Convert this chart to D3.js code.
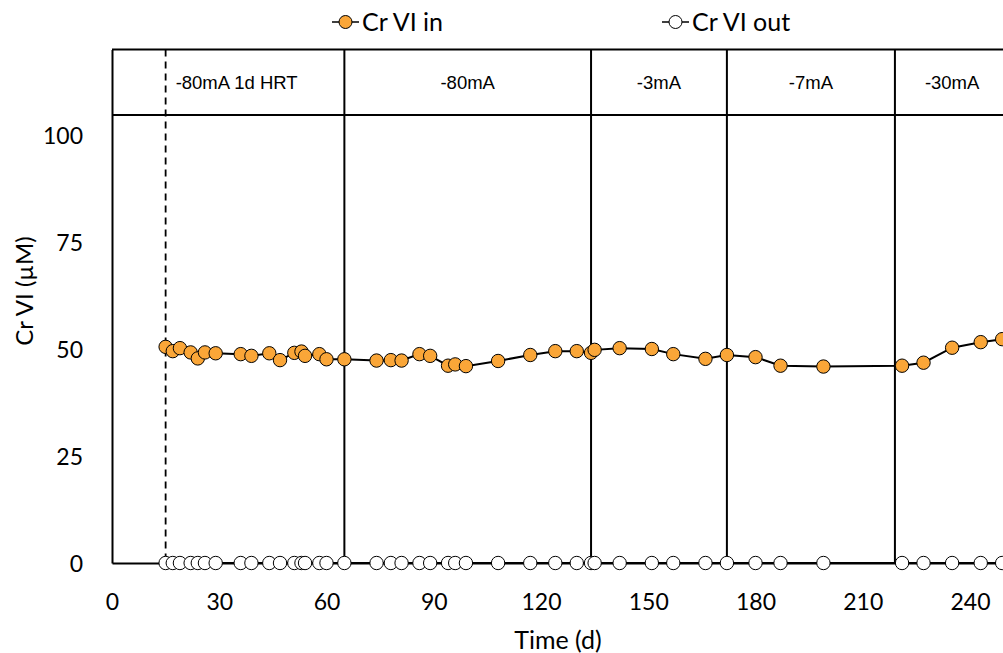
<!DOCTYPE html>
<html>
<head>
<meta charset="utf-8">
<script src="https://cdn.jsdelivr.net/npm/d3@7"></script>
<style>
  body { margin: 0; background: #fff; }
  svg { display: block; }
  .tick text { font-family: Lato, "Open Sans", sans-serif; font-size: 23px; fill: #000; }
</style>
</head>
<body>
<svg id="chart" width="1003" height="653"></svg>
<script>
// sampling days (d)
const days = [15, 17, 19, 22, 24, 26, 29, 36, 39, 44, 47, 51, 53, 54, 58, 60, 65,
  74, 78, 81, 86, 89, 94, 96, 99, 108, 117, 124, 130, 134, 135, 142, 151, 157,
  166, 172, 180, 187, 199, 221, 227, 235, 243, 249];

// Cr VI influent (uM)
const crIn = [50.5, 49.5, 50.2, 49.2, 47.8, 49.2, 49.0, 48.8, 48.4, 49.0, 47.4, 49.1, 49.4, 48.4, 48.8, 47.6, 47.6,
  47.3, 47.4, 47.3, 48.8, 48.4, 46.1, 46.4, 46.0, 47.2, 48.6, 49.5, 49.5, 49.1, 49.8, 50.2, 50.0, 48.8,
  47.7, 48.6, 48.1, 46.1, 45.9, 46.1, 46.8, 50.3, 51.6, 52.3];

// Cr VI effluent (uM)
const crOut = [0, 0, 0, 0, 0, 0, 0, 0, 0, 0, 0, 0, 0, 0, 0, 0, 0,
  0, 0, 0, 0, 0, 0, 0, 0, 0, 0, 0, 0, 0, 0, 0, 0, 0,
  0, 0, 0, 0, 0, 0, 0, 0, 0, 0];

// operating phases
const phaseStart = [15, 65, 134, 172, 219];
const phaseEnd = [65, 134, 172, 219, 251];
const phaseLabels = ['-80mA 1d HRT', '-80mA', '-3mA', '-7mA', '-30mA'];

const xTicks = [0, 30, 60, 90, 120, 150, 180, 210, 240];
const yTicks = [0, 25, 50, 75, 100];

const svg = d3.select('#chart');
const left = 112, bottom = 563;

const x = d3.scaleLinear().domain([0, 270]).range([left, left + 270 * 3.575]);
const y = d3.scaleLinear().domain([0, 120]).range([bottom, bottom - 120 * 4.28]);
const boxBottom = 104.7; // lower edge of the phase label band (y units)

const font = 'Lato, "Open Sans", sans-serif';
const orange = '#FAA638';

// x axis
const xAxis = svg.append('g')
  .attr('transform', `translate(0,${bottom})`)
  .call(d3.axisBottom(x).tickValues(xTicks).tickSize(0).tickPadding(31));
xAxis.select('.domain').attr('stroke', '#000').attr('stroke-width', 2);

// y axis
const yAxis = svg.append('g')
  .attr('transform', `translate(${left},0)`)
  .call(d3.axisLeft(y).tickValues(yTicks).tickSize(0).tickPadding(29));
yAxis.select('.domain').attr('stroke', '#000').attr('stroke-width', 2);
yAxis.selectAll('.tick text').attr('dy', '0.36em');

// phase band
svg.append('line')
  .attr('x1', left).attr('x2', 1003)
  .attr('y1', y(120)).attr('y2', y(120))
  .attr('stroke', '#000').attr('stroke-width', 2);
svg.append('line')
  .attr('x1', left).attr('x2', 1003)
  .attr('y1', y(boxBottom)).attr('y2', y(boxBottom))
  .attr('stroke', '#000').attr('stroke-width', 2);

svg.selectAll('.phase-line')
  .data(phaseStart)
  .enter()
  .append('line')
  .attr('class', 'phase-line')
  .attr('x1', d => x(d)).attr('x2', d => x(d))
  .attr('y1', y(120)).attr('y2', y(0))
  .attr('stroke', '#000')
  .attr('stroke-width', (d, i) => i === 0 ? 1.8 : 2)
  .attr('stroke-dasharray', (d, i) => i === 0 ? '7,5' : null);

svg.selectAll('.phase-label')
  .data(phaseLabels)
  .enter()
  .append('text')
  .attr('class', 'phase-label')
  .attr('x', (d, i) => i === 0 ? x(phaseStart[i]) + 10 : (x(phaseStart[i]) + x(phaseEnd[i])) / 2)
  .attr('y', (y(120) + y(boxBottom)) / 2)
  .attr('dy', '0.35em')
  .attr('text-anchor', (d, i) => i === 0 ? 'start' : 'middle')
  .attr('font-family', '"Liberation Sans", Arial, sans-serif')
  .attr('font-size', 18.5)
  .text(d => d);

// series
const line = d3.line().x(d => x(d[0])).y(d => y(d[1]));
const inPts = days.map((d, i) => [d, crIn[i]]);
const outPts = days.map((d, i) => [d, crOut[i]]);

svg.append('path').datum(outPts)
  .attr('d', line).attr('fill', 'none')
  .attr('stroke', '#000').attr('stroke-width', 2);
svg.append('path').datum(inPts)
  .attr('d', line).attr('fill', 'none')
  .attr('stroke', '#000').attr('stroke-width', 2);

svg.selectAll('.out-pt')
  .data(outPts)
  .enter()
  .append('circle')
  .attr('class', 'out-pt')
  .attr('cx', d => x(d[0])).attr('cy', d => y(d[1]))
  .attr('r', 6.7)
  .attr('fill', '#fff').attr('stroke', '#000').attr('stroke-width', 1);

svg.selectAll('.in-pt')
  .data(inPts)
  .enter()
  .append('circle')
  .attr('class', 'in-pt')
  .attr('cx', d => x(d[0])).attr('cy', d => y(d[1]))
  .attr('r', 6.7)
  .attr('fill', orange).attr('stroke', '#000').attr('stroke-width', 1);

// legend
const legend = [
  { label: 'Cr VI in', fill: orange, x0: 332 },
  { label: 'Cr VI out', fill: '#fff', x0: 662 }
];
const lg = svg.selectAll('.legend')
  .data(legend)
  .enter()
  .append('g')
  .attr('class', 'legend')
  .attr('transform', d => `translate(${d.x0},22)`);
lg.append('line')
  .attr('x1', 0).attr('x2', 27).attr('y1', 0).attr('y2', 0)
  .attr('stroke', '#000').attr('stroke-width', 1.5);
lg.append('circle')
  .attr('cx', 13.5).attr('cy', 0).attr('r', 6.5)
  .attr('fill', d => d.fill).attr('stroke', '#000').attr('stroke-width', 1);
lg.append('text')
  .attr('x', 30).attr('y', 0).attr('dy', '0.35em')
  .attr('font-family', font).attr('font-size', 25)
  .text(d => d.label);

// axis titles
svg.append('text')
  .attr('x', 558).attr('y', 640)
  .attr('dy', '0.35em')
  .attr('text-anchor', 'middle')
  .attr('font-family', font).attr('font-size', 25)
  .text('Time (d)');

svg.append('text')
  .attr('transform', 'translate(25,291) rotate(-90)')
  .attr('dy', '0.35em')
  .attr('text-anchor', 'middle')
  .attr('font-family', font).attr('font-size', 24)
  .text('Cr VI (µM)');
</script>
</body>
</html>
